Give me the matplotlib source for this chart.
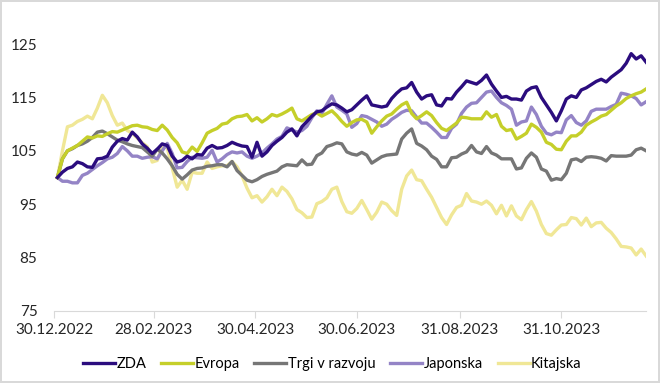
import pandas as pd
import matplotlib.pyplot as plt
import matplotlib.dates as mdates

# index values (start = 100), every 3 days
zda = [100, 101, 101.7, 102, 102.9, 102.6, 102, 101.9, 103.5, 103.6,
       104, 105.7, 106.8, 107.3, 107, 108.5, 107.6, 106.3, 105.5, 104.5,
       105.3, 106.3, 106, 104, 102.9, 103.2, 104, 103.5, 104.3, 104.2,
       105.5, 106, 105.5, 105.6, 106, 106.6, 106.2, 105.9, 105.8, 103.8,
       106.6, 104, 104.8, 106, 106.8, 107.5, 108.5, 109.1, 107.8, 109.5,
       110.5, 111.5, 112.3, 112.5, 113.2, 113.8, 113.6, 113, 112.3, 112.7,
       113.6, 114.5, 115.3, 113.6, 113.4, 113.2, 113.4, 114.8, 115.8, 116.6,
       116.8, 117.8, 116, 114.7, 115.3, 115.5, 113.6, 113.4, 114.8, 114.7,
       116, 117, 118.1, 117.8, 117.5, 118.2, 119.2, 117.5, 116.2, 115,
       115.2, 114.7, 114.7, 114.5, 116.2, 116.8, 117, 115, 113.6, 112.2,
       110.6, 112.5, 114.7, 115.3, 115, 116.4, 116.8, 117.4, 118, 118.4,
       117.9, 118.8, 119.5, 120.2, 121.4, 123.2, 122.2, 122.8, 121.6]
evropa = [100, 103.5, 105, 105.5, 106, 106.8, 107.6, 107.4, 107.8, 107.7,
          108.2, 108.6, 108.5, 108.9, 109.3, 109.7, 109.8, 109.5, 109.4, 109,
          108.8, 109.8, 108.9, 107.5, 106.5, 104.8, 104.5, 105.7, 104.9, 106.5,
          108.3, 108.8, 109.2, 110, 110.2, 111, 111.4, 111.5, 111.8, 110.6,
          111.2, 110.4, 111, 111.8, 111.5, 111.9, 112.4, 113, 111, 110.6,
          111.2, 111.8, 112.1, 111.5, 112, 112.5, 111.6, 110.5, 109.6, 110.3,
          110.8, 110.9, 110.4, 108.3, 109.5, 110.6, 111.5, 111.9, 112.8, 113.6,
          114.1, 112, 111, 111.6, 112.3, 111.6, 110.3, 109.2, 108.8, 109.5,
          110.2, 111.3, 111.2, 111, 111, 111, 112.3, 111.3, 111.8, 109.6,
          108.8, 109, 107.2, 107.7, 108.3, 110, 109.4, 108.5, 106.6, 106.2,
          105.3, 105.2, 106.8, 107.8, 107.8, 108.5, 109.8, 110.4, 110.9, 111.5,
          111.8, 112.6, 113.4, 114, 114.8, 115.3, 115.7, 116, 116.6]
trgi = [100, 103.5, 105, 105.4, 106, 106.3, 106.8, 107.5, 108.5, 108.7,
        108.2, 107.6, 107, 106.7, 106.3, 106, 105.8, 105.6, 104.8, 104,
        105.3, 104.6, 103.5, 102.2, 100.6, 99.7, 100.5, 101.4, 101.7, 101.8,
        102.1, 102.2, 102.4, 102.4, 102, 103, 101.3, 100.4, 99.5, 99.2,
        99.6, 100.2, 100.6, 100.9, 101.2, 102, 102.4, 102.3, 102.2, 103.3,
        102.4, 102.5, 104.1, 104.6, 105.8, 106.1, 106.5, 106.3, 104.8, 104.4,
        104.2, 104.7, 104.2, 102.7, 103.3, 103.9, 104.2, 104.3, 104.4, 107.2,
        108.3, 109.1, 106.4, 105.9, 105.2, 104, 103.4, 102, 102, 103.7,
        103.8, 104.4, 104.8, 106, 104.8, 104.5, 105.8, 104.6, 104.2, 103.5,
        103.5, 103.5, 101.6, 101.8, 103.6, 104.6, 103.8, 101.6, 101.2, 99.5,
        99.8, 99.6, 100.8, 103.3, 103.5, 103, 103.8, 103.9, 103.8, 103.6,
        103.1, 104.1, 104, 104, 104, 104.2, 105.2, 105.5, 105]
japonska = [100, 99.3, 99.3, 99, 99, 100.4, 100.8, 101.5, 102.2, 102.8,
            103.5, 103.8, 104.5, 105.8, 105, 104, 104, 103.6, 103.8, 103.9,
            103.5, 105, 106.4, 104.5, 101.8, 101.9, 103, 103.8, 103.7, 103.6,
            103.8, 105.1, 102.9, 103.5, 104.3, 104.8, 104.6, 104.8, 104, 103.6,
            104, 104.6, 105.5, 106.3, 107.2, 107.7, 109.3, 108.9, 108.5, 108.8,
            109.6, 111.2, 112.5, 112, 113.7, 115.3, 113.2, 112.6, 111.9, 109.4,
            110.1, 111.6, 111.4, 110.9, 110.4, 109.6, 110, 110.9, 111.5, 112.2,
            112.6, 112.5, 111.3, 110.2, 110.2, 109.4, 108.5, 107.5, 107.5, 109.2,
            110, 112, 113.2, 113.9, 114, 115, 116, 116.2, 115, 114,
            113.5, 112.8, 109.8, 110.4, 110.6, 113.2, 111.8, 109.6, 108.3, 108,
            108.5, 108.4, 110.8, 111.6, 110.3, 109.8, 110.6, 112.4, 112.8, 112.8,
            112.8, 113.3, 113.7, 115.8, 115.6, 115.3, 114.8, 113.6, 114.2]
kitajska = [100, 105, 109.5, 109.8, 110.5, 110.9, 111.5, 111, 113, 115.4,
            114, 111.6, 109.8, 110.2, 108.8, 108.3, 107.4, 106.5, 105.8, 102.9,
            103.2, 105.8, 105.6, 101.8, 98.2, 99.5, 97.8, 101, 100.8, 100.8,
            102.9, 101.7, 102, 102.2, 102.2, 103, 102, 100.3, 98, 96.2,
            96.6, 95.4, 96.4, 97.8, 96.6, 98.2, 97.4, 96, 94, 93.4,
            92.5, 92.6, 95.1, 95.5, 96.2, 97.8, 98.2, 95.5, 93.6, 93.3,
            94.2, 95.7, 94, 92.2, 93.5, 95.4, 95, 93.8, 92.9, 97.8,
            100.3, 101.4, 99.6, 99.4, 97.8, 96.3, 94.4, 92.5, 91.2, 93,
            94.4, 94.8, 97, 95.6, 95.4, 95, 95.6, 94.8, 93.2, 94.8,
            92.8, 94.7, 92.8, 92.1, 94, 95.5, 93.7, 91.2, 89.5, 89.2,
            90.2, 91.1, 91.2, 92.5, 92.3, 91.1, 92.4, 90.8, 91.5, 91.6,
            90.5, 89.7, 88.5, 87.1, 87, 86.8, 85.5, 86.6, 85.3]

dates = pd.date_range("2023-01-01", periods=len(zda), freq="3D")
tick_dates = pd.to_datetime(["2022-12-30", "2023-02-28", "2023-04-30",
                             "2023-06-30", "2023-08-31", "2023-10-31"])

series = [("ZDA", zda, "#2b0c7e"),
          ("Evropa", evropa, "#c5cf2a"),
          ("Trgi v razvoju", trgi, "#767676"),
          ("Japonska", japonska, "#9484c6"),
          ("Kitajska", kitajska, "#f0e796")]

plt.rcParams['font.family'] = ['Lato', 'DejaVu Sans']

fig = plt.figure(figsize=(6.6, 3.83), dpi=100)
fig.patch.set_edgecolor("#d9d9d9")
fig.patch.set_linewidth(1.5)
ax = fig.add_axes([0.082, 0.188, 0.897, 0.697])

# draw in reverse so ZDA ends up on top
for name, vals, col in reversed(series):
    ax.plot(dates, vals, color=col, lw=2.4, label=name, solid_joinstyle="round")

ax.set_ylim(75, 125)
ax.set_yticks(range(75, 126, 10))
ax.set_xlim(pd.Timestamp("2022-12-30"), pd.Timestamp("2023-12-21"))
ax.set_xticks(tick_dates)
ax.xaxis.set_major_formatter(mdates.DateFormatter("%d.%m.%Y"))

for s in ["top", "right", "left"]:
    ax.spines[s].set_visible(False)
ax.spines["bottom"].set_color("#d9d9d9")
ax.tick_params(axis="y", length=0, pad=12, labelsize=11, labelcolor="#262626")
ax.tick_params(axis="x", length=5, color="#d9d9d9", pad=4, labelsize=11,
               labelcolor="#262626")

h, l = ax.get_legend_handles_labels()
ax.legend(h[::-1], l[::-1], loc="upper center", bbox_to_anchor=(0.47, -0.125),
          ncol=5, frameon=False, fontsize=10.5, handlelength=2.2,
          handletextpad=0.1, columnspacing=1.0)

fig.savefig("out.png", dpi=100)
